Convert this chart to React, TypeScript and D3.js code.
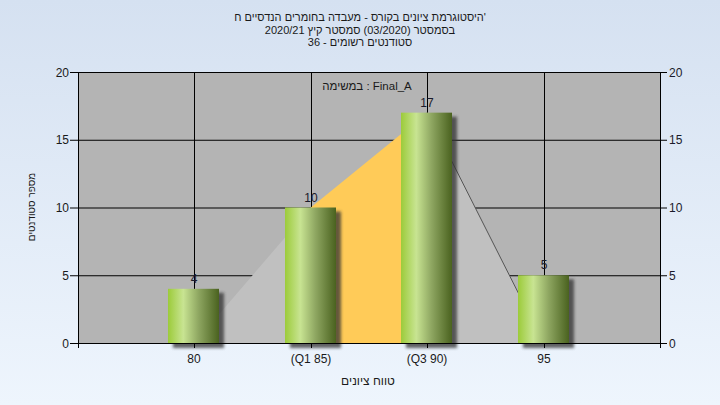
import React from "react";
import * as d3 from "d3";

const scores = [80, 85, 90, 95];
const tickLabels = ["80", "(Q1 85)", "(Q3 90)", "95"];
const counts = [4, 10, 17, 5];
const areaValues = [0, 10, 17, 0];
const areaColors = ["#c0c0c0", "#ffcb58", "#c0c0c0"];
const yTicks = [0, 5, 10, 15, 20];
// words listed in their on-screen left-to-right order
const titleLines = [
  ["ח", "הנדסיים", "בחומרים", "מעבדה", "-", "בקורס", "ציונים", "היסטוגרמת", "'"],
  ["2020/21", "קיץ", "סמסטר", "(03/2020)", "בסמסטר"],
  ["36", "-", "רשומים", "סטודנטים"],
];
const taskLabel = ["במשימה", ":", "Final_A"];
const xTitle = ["ציונים", "טווח"];
const yTitle = ["סטודנטים", "מספר"];

const W = 720;
const H = 405;
const left = 78;
const right = 660;
const top = 72;
const bottom = 343;
const FONT = "Liberation Sans";
const font = `'${FONT}', Arial, sans-serif`;

let ctx: CanvasRenderingContext2D | null = null;
function measure(s: string, size: number) {
  if (!ctx) ctx = document.createElement("canvas").getContext("2d");
  if (!ctx) return s.length * size * 0.55;
  ctx.font = `${size}px '${FONT}', Arial, sans-serif`;
  return ctx.measureText(s).width;
}

function Words({
  words,
  cx,
  y,
  size = 12,
  fill = "#1a1a1a",
  transform,
}: {
  words: string[];
  cx: number;
  y: number;
  size?: number;
  fill?: string;
  transform?: string;
}) {
  const sp = measure(" ", size);
  const gapAfter = (i: number) =>
    i < words.length - 1 && words[i + 1] !== "'" ? sp : 0;
  const widths = words.map((w) => measure(w, size));
  const total = widths.reduce((a, w, i) => a + w + gapAfter(i), 0);
  let pos = cx - total / 2;
  const out: React.ReactNode[] = [];
  words.forEach((w, i) => {
    out.push(
      <text key={i} x={pos + widths[i] / 2} y={y} textAnchor="middle" fontSize={size} fill={fill}>
        {w}
      </text>
    );
    pos += widths[i] + gapAfter(i);
  });
  return <g transform={transform}>{out}</g>;
}

export default function App() {
  const x = d3.scaleLinear().domain([75, 100]).range([left, right]);
  const y = d3.scaleLinear().domain([0, 20]).range([bottom, top]);
  const barW = 51;

  const segs = d3.range(scores.length - 1).map((i) => {
    const pts: [number, number][] = [
      [scores[i], areaValues[i]],
      [scores[i + 1], areaValues[i + 1]],
    ];
    const a = d3
      .area<[number, number]>()
      .x((d) => x(d[0]))
      .y0(y(0))
      .y1((d) => y(d[1]));
    return { d: a(pts) as string, color: areaColors[i], pts };
  });
  const line = d3
    .line<[number, number]>()
    .x((d) => x(d[0]))
    .y((d) => y(d[1]));

  return (
    <svg
      width={W}
      height={H}
      style={{ position: "absolute", left: 0, top: 0, display: "block" }}
      fontFamily={font}
    >
      <defs>
        <linearGradient id="bg" x1="0" y1="0" x2="0" y2="1">
          <stop offset="0%" stopColor="#d5e1f1" />
          <stop offset="100%" stopColor="#eef5fd" />
        </linearGradient>
        <linearGradient id="bar" x1="0" y1="0" x2="1" y2="0">
          <stop offset="0%" stopColor="#9ccb3a" />
          <stop offset="30%" stopColor="#c8e492" />
          <stop offset="60%" stopColor="#8ea661" />
          <stop offset="100%" stopColor="#4a621f" />
        </linearGradient>
        <filter id="blur" x="-30%" y="-30%" width="160%" height="160%">
          <feGaussianBlur stdDeviation="1.8" />
        </filter>
      </defs>
      <rect x={0} y={0} width={W} height={H} fill="url(#bg)" />

      {/* titles */}
      {titleLines.map((l, i) => (
        <Words key={i} words={l} cx={360} y={21 + i * 12.5} size={11} />
      ))}

      {/* plot background */}
      <rect x={left} y={top} width={right - left} height={bottom - top} fill="#b4b4b4" />

      {/* grid */}
      {yTicks.map((t) => (
        <line key={"gy" + t} x1={left} x2={right} y1={y(t) + 0.5} y2={y(t) + 0.5} stroke="#000" />
      ))}
      {scores.map((s) => (
        <line key={"gx" + s} x1={Math.round(x(s)) + 0.5} x2={Math.round(x(s)) + 0.5} y1={top} y2={bottom} stroke="#000" />
      ))}

      {/* area */}
      {segs.map((s, i) => (
        <path key={"a" + i} d={s.d} fill={s.color} />
      ))}
      <path d={line(segs[2].pts) as string} fill="none" stroke="#555" strokeWidth={1} />

      {/* task label */}
      <Words words={taskLabel} cx={367} y={90} size={11.5} />

      {/* bars */}
      {counts.map((c, i) => {
        const cx = Math.round(x(scores[i]));
        const x0 = cx - Math.round(barW / 2);
        const y0 = y(c);
        return (
          <g key={"b" + i}>
            <rect
              x={x0 + 5}
              y={y0 + 4}
              width={barW}
              height={y(0) - y0 + 1}
              fill="#303030"
              opacity={0.75}
              filter="url(#blur)"
            />
            <rect x={x0} y={y0} width={barW} height={y(0) - y0} fill="url(#bar)" />
            <text x={cx} y={y0 - 6} textAnchor="middle" fontSize={12} fill="#1a1a2a">
              {c}
            </text>
          </g>
        );
      })}

      {/* axes */}
      <line x1={left + 0.5} x2={left + 0.5} y1={top} y2={bottom + 5} stroke="#000" />
      <line x1={right + 0.5} x2={right + 0.5} y1={top} y2={bottom + 5} stroke="#000" />
      <line x1={left} x2={right} y1={bottom + 0.5} y2={bottom + 0.5} stroke="#000" />
      {yTicks.map((t) => (
        <g key={"t" + t}>
          <line x1={left - 8} x2={left} y1={y(t) + 0.5} y2={y(t) + 0.5} stroke="#000" />
          <line x1={right} x2={right + 7} y1={y(t) + 0.5} y2={y(t) + 0.5} stroke="#000" />
          <text x={left - 9} y={y(t) + 4.5} textAnchor="end" fontSize={12} fill="#1a1a1a">
            {t}
          </text>
          <text x={right + 9} y={y(t) + 4.5} textAnchor="start" fontSize={12} fill="#1a1a2a">
            {t}
          </text>
        </g>
      ))}
      {scores.map((s, i) => (
        <g key={"xt" + s}>
          <line x1={Math.round(x(s)) + 0.5} x2={Math.round(x(s)) + 0.5} y1={bottom} y2={bottom + 5} stroke="#000" />
          <text x={Math.round(x(s))} y={363} textAnchor="middle" fontSize={12} fill="#1a1a1a">
            {tickLabels[i]}
          </text>
        </g>
      ))}

      <Words words={xTitle} cx={368} y={385} size={12} />
      <Words words={yTitle} cx={0} y={3.5} size={10} transform="translate(31, 207) rotate(-90)" />
    </svg>
  );
}
